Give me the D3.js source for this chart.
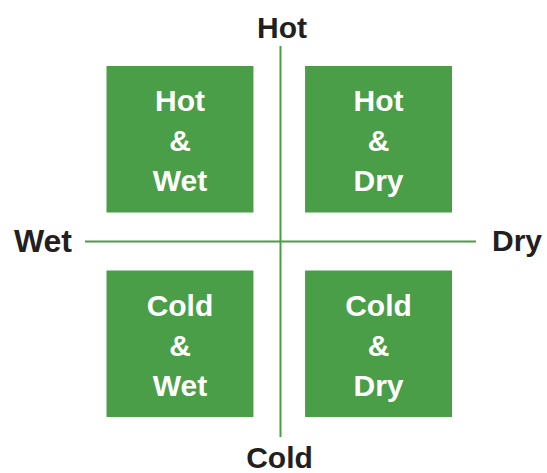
<!DOCTYPE html>
<html>
<head>
<meta charset="utf-8">
<script src="https://cdn.jsdelivr.net/npm/d3@7"></script>
<style>
  body { margin: 0; background: #fff; }
  svg text { font-family: "Liberation Sans", Arial, sans-serif; font-weight: bold; }
</style>
</head>
<body>
<svg id="chart"></svg>
<script>
// axis ends and the quadrants
var columns = ["Wet", "Dry"];
var rows = ["Hot", "Cold"];
var quadrants = [
  { row: "Hot", col: "Wet", lines: ["Hot", "&", "Wet"] },
  { row: "Hot", col: "Dry", lines: ["Hot", "&", "Dry"] },
  { row: "Cold", col: "Wet", lines: ["Cold", "&", "Wet"] },
  { row: "Cold", col: "Dry", lines: ["Cold", "&", "Dry"] }
];

var width = 547, height = 473;
var green = "#4a9e47", ink = "#231f20";

var svg = d3.select("#chart")
  .attr("width", width)
  .attr("height", height);

// -1 = wet / cold, 1 = dry / hot
var x = d3.scaleLinear().domain([-1, 1]).range([85, 476]);
var y = d3.scaleLinear().domain([-1, 1]).range([437, 46]);

var xb = d3.scaleBand().domain(columns).range([106.5, 452]).paddingInner(0.26);
var yb = d3.scaleBand().domain(rows).range([66, 417]).paddingInner(0.2836);

// squares
var cell = svg.selectAll("g.cell")
  .data(quadrants)
  .enter().append("g")
    .attr("class", "cell")
    .attr("transform", (d) => { return "translate(" + xb(d.col) + "," + yb(d.row) + ")"; });

cell.append("rect")
  .attr("width", xb.bandwidth())
  .attr("height", yb.bandwidth())
  .attr("fill", green);

cell.selectAll("text")
  .data((d) => { return d.lines; })
  .enter().append("text")
    .attr("x", xb.bandwidth() / 2)
    .attr("y", (d, i) => { return yb.bandwidth() / 2 + 12 + (i - 1) * 40; })
    .attr("text-anchor", "middle")
    .attr("fill", "#fff")
    .attr("font-size", 30)
    .text((d) => { return d; });

// cross
svg.append("line")
  .attr("x1", x(0)).attr("x2", x(0))
  .attr("y1", y(1)).attr("y2", y(-1))
  .attr("stroke", green).attr("stroke-width", 2);

svg.append("line")
  .attr("x1", x(-1)).attr("x2", x(1))
  .attr("y1", y(0)).attr("y2", y(0))
  .attr("stroke", green).attr("stroke-width", 2);

// axis end labels
var ends = [
  { text: rows[0], px: x(0) + 1.5, py: 38, anchor: "middle", size: 30 },
  { text: rows[1], px: x(0) - 1, py: 467.5, anchor: "middle", size: 30 },
  { text: columns[0], px: 72, py: 251.5, anchor: "end", size: 32 },
  { text: columns[1], px: 492, py: 251, anchor: "start", size: 30 }
];

svg.selectAll("text.end")
  .data(ends)
  .enter().append("text")
    .attr("class", "end")
    .attr("x", (d) => { return d.px; })
    .attr("y", (d) => { return d.py; })
    .attr("text-anchor", (d) => { return d.anchor; })
    .attr("fill", ink)
    .attr("font-size", (d) => { return d.size; })
    .text((d) => { return d.text; });
</script>
</body>
</html>
